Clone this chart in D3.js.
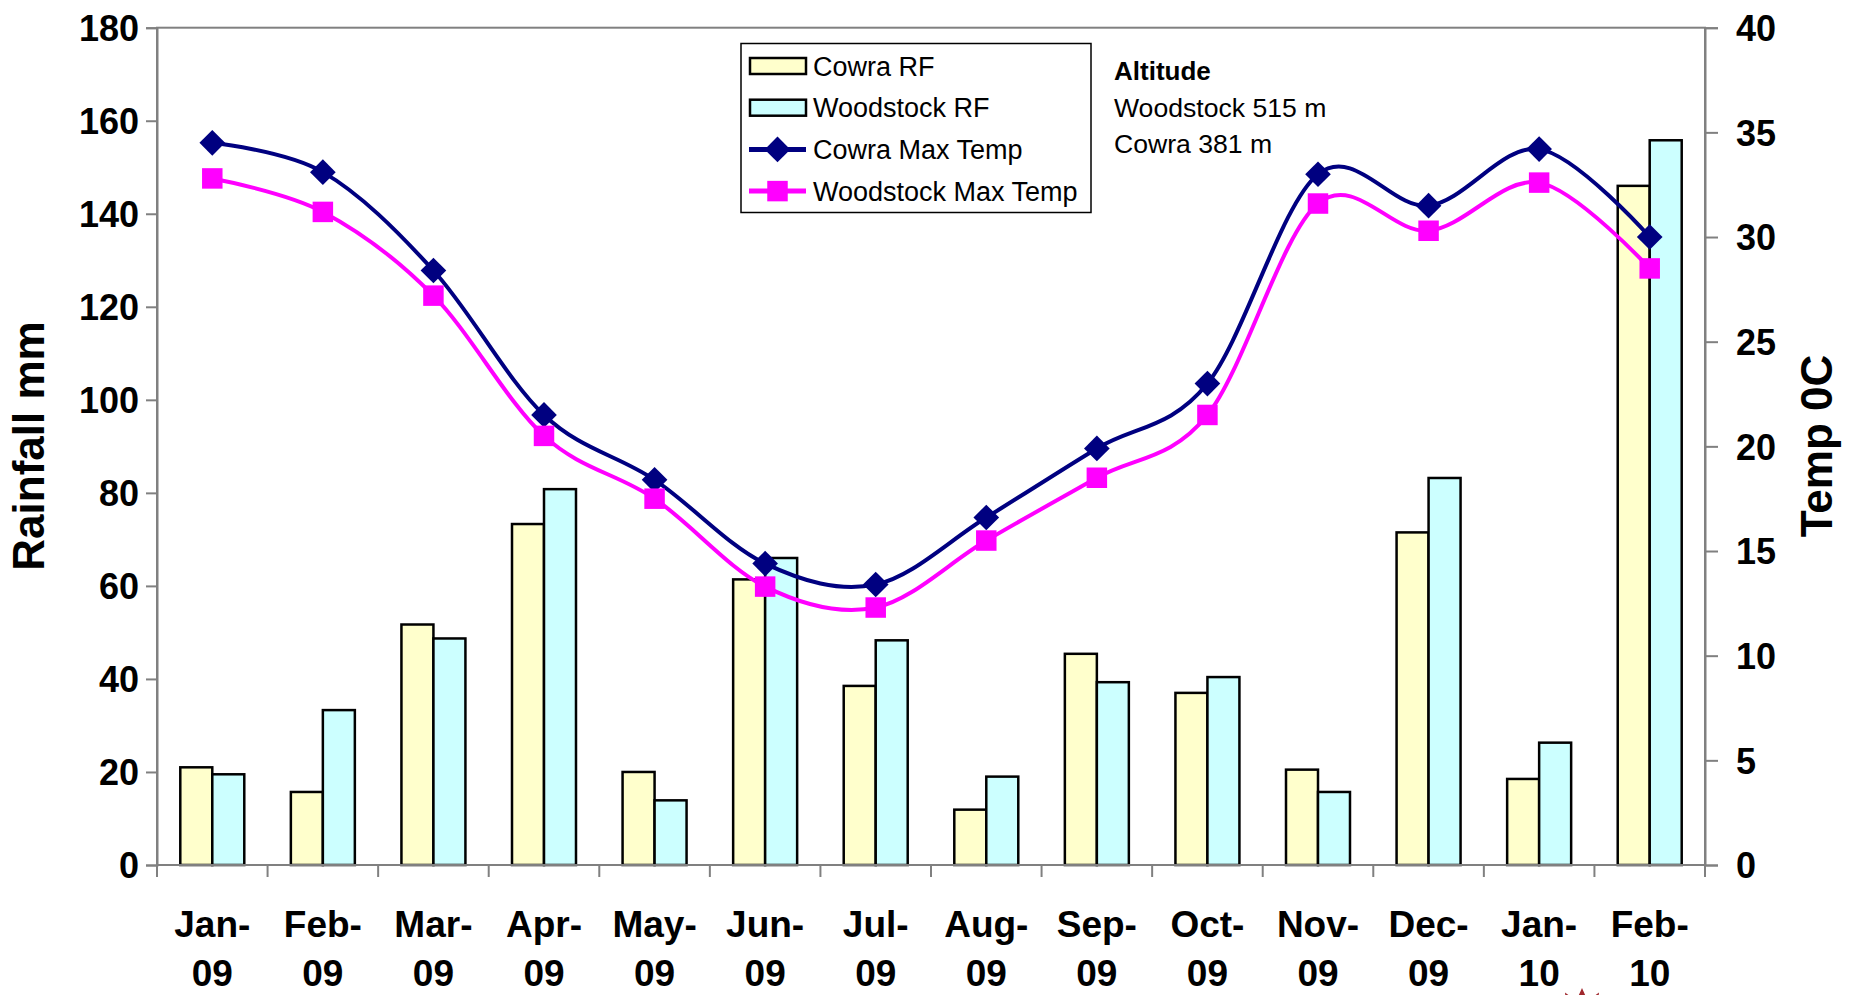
<!DOCTYPE html>
<html>
<head>
<meta charset="utf-8">
<script src="https://cdn.jsdelivr.net/npm/d3@7"></script>
<style>
  body { margin: 0; background: #fff; }
  text { font-family: "Liberation Sans", Arial, sans-serif; fill: #000; }
</style>
</head>
<body>
<div id="chart"></div>
<script>
// data
const months = ["Jan-09", "Feb-09", "Mar-09", "Apr-09", "May-09", "Jun-09", "Jul-09",
                "Aug-09", "Sep-09", "Oct-09", "Nov-09", "Dec-09", "Jan-10", "Feb-10"];
const cowraRF     = [21.0, 15.7, 51.7, 73.3, 20.0, 61.4, 38.5, 11.9, 45.4, 37.0, 20.5, 71.5, 18.5, 146.0];
const woodstockRF = [19.5, 33.3, 48.7, 80.8, 13.9, 66.0, 48.3, 19.0, 39.3, 40.4, 15.7, 83.2, 26.3, 155.8];
const cowraTemp     = [34.5, 33.1, 28.4, 21.5, 18.4, 14.4, 13.4, 16.6, 19.9, 23.0, 33.0, 31.5, 34.2, 30.0];
const woodstockTemp = [32.8, 31.2, 27.2, 20.5, 17.5, 13.3, 12.3, 15.5, 18.5, 21.5, 31.6, 30.3, 32.6, 28.5];
const rainTicks = [0, 20, 40, 60, 80, 100, 120, 140, 160, 180];
const tempTicks = [0, 5, 10, 15, 20, 25, 30, 35, 40];
const barSeries = ["Cowra RF", "Woodstock RF"];
const altitudeLines = ["Woodstock 515 m", "Cowra 381 m"];

const width = 1853, height = 995;
const plotLeft = 157, plotRight = 1705, plotTop = 27.7, plotBottom = 865;

const svg = d3.select("#chart").append("svg")
    .attr("width", width)
    .attr("height", height);

const x = d3.scaleBand().domain(months).range([plotLeft, plotRight]);
const xs = d3.scaleBand().domain(barSeries).range([0, x.bandwidth()]).paddingOuter(0.728);
const yRain = d3.scaleLinear().domain([0, 180]).range([plotBottom, plotTop]);
const yTemp = d3.scaleLinear().domain([0, 40]).range([plotBottom, plotTop]);

const axisColor = "#808080";

// bars
const barColors = { "Cowra RF": "#FFFFCC", "Woodstock RF": "#CCFFFF" };
const barData = [];
months.forEach(function (m, i) {
    barData.push({ m: m, s: "Cowra RF", v: cowraRF[i] });
    barData.push({ m: m, s: "Woodstock RF", v: woodstockRF[i] });
});

svg.append("g").selectAll("rect")
    .data(barData)
    .enter().append("rect")
    .attr("x", function (d) { return x(d.m) + xs(d.s); })
    .attr("y", function (d) { return yRain(d.v); })
    .attr("width", xs.bandwidth())
    .attr("height", function (d) { return yRain(0) - yRain(d.v); })
    .style("fill", function (d) { return barColors[d.s]; })
    .style("stroke", "#000")
    .style("stroke-width", 2.5);

// frame
svg.append("rect")
    .attr("x", plotLeft).attr("y", plotTop)
    .attr("width", plotRight - plotLeft).attr("height", plotBottom - plotTop)
    .style("fill", "none")
    .style("stroke", axisColor)
    .style("stroke-width", 2);

// left axis
const yAxisL = d3.axisLeft(yRain).tickValues(rainTicks).tickSize(11).tickPadding(7);
const gL = svg.append("g").attr("transform", "translate(" + plotLeft + ",0)").call(yAxisL);
gL.select(".domain").style("stroke", axisColor).style("stroke-width", 2);
gL.selectAll(".tick line").style("stroke", axisColor).style("stroke-width", 2);
gL.selectAll(".tick text")
    .style("font-size", "36px").style("font-weight", "bold")
    .attr("dy", "0.36em");

// right axis
const yAxisR = d3.axisRight(yTemp).tickValues(tempTicks).tickSize(13).tickPadding(18);
const gR = svg.append("g").attr("transform", "translate(" + plotRight + ",0)").call(yAxisR);
gR.select(".domain").style("stroke", axisColor).style("stroke-width", 2);
gR.selectAll(".tick line").style("stroke", axisColor).style("stroke-width", 2);
gR.selectAll(".tick text")
    .style("font-size", "36px").style("font-weight", "bold")
    .attr("dy", "0.36em");

// x axis ticks at category boundaries
const bounds = months.map(function (m) { return x(m); }).concat([plotRight]);
svg.append("g").selectAll("line")
    .data(bounds)
    .enter().append("line")
    .attr("x1", function (d) { return d; })
    .attr("x2", function (d) { return d; })
    .attr("y1", plotBottom)
    .attr("y2", plotBottom + 12)
    .style("stroke", axisColor)
    .style("stroke-width", 2);

// x labels
const xl = svg.append("g").selectAll("text")
    .data(months)
    .enter().append("text")
    .attr("text-anchor", "middle")
    .style("font-size", "37px")
    .style("font-weight", "bold");
xl.append("tspan")
    .attr("x", function (d) { return x(d) + x.bandwidth() / 2; })
    .attr("y", 937)
    .text(function (d) { return d.split("-")[0] + "-"; });
xl.append("tspan")
    .attr("x", function (d) { return x(d) + x.bandwidth() / 2; })
    .attr("y", 986)
    .text(function (d) { return d.split("-")[1]; });

// axis titles
svg.append("text")
    .attr("transform", "translate(44,446) rotate(-90)")
    .attr("text-anchor", "middle")
    .style("font-size", "44px").style("font-weight", "bold")
    .text("Rainfall mm");
svg.append("text")
    .attr("transform", "translate(1832,446) rotate(-90)")
    .attr("text-anchor", "middle")
    .style("font-size", "44px").style("font-weight", "bold")
    .text("Temp 0C");

// temperature lines
const cx = function (i) { return x(months[i]) + x.bandwidth() / 2; };
const line = d3.line()
    .x(function (d, i) { return cx(i); })
    .y(function (d) { return yTemp(d); })
    .curve(d3.curveCardinal.tension(0));

const diamond = d3.symbol().type(d3.symbolDiamond2).size(420);
const square = d3.symbol().type(d3.symbolSquare).size(420);

svg.append("path")
    .datum(cowraTemp)
    .attr("d", line)
    .style("fill", "none").style("stroke", "#000080").style("stroke-width", 4);
svg.append("path")
    .datum(woodstockTemp)
    .attr("d", line)
    .style("fill", "none").style("stroke", "#FF00FF").style("stroke-width", 4);

svg.append("g").selectAll("path")
    .data(cowraTemp)
    .enter().append("path")
    .attr("d", diamond)
    .attr("transform", function (d, i) { return "translate(" + cx(i) + "," + yTemp(d) + ")"; })
    .style("fill", "#000080");
svg.append("g").selectAll("path")
    .data(woodstockTemp)
    .enter().append("path")
    .attr("d", square)
    .attr("transform", function (d, i) { return "translate(" + cx(i) + "," + yTemp(d) + ")"; })
    .style("fill", "#FF00FF");

// legend
const legend = svg.append("g");
legend.append("rect")
    .attr("x", 741).attr("y", 43.5)
    .attr("width", 350).attr("height", 169)
    .style("fill", "#fff").style("stroke", "#000").style("stroke-width", 1.5);

const legendItems = [
    { label: "Cowra RF", kind: "bar", color: "#FFFFCC" },
    { label: "Woodstock RF", kind: "bar", color: "#CCFFFF" },
    { label: "Cowra Max Temp", kind: "diamond", color: "#000080" },
    { label: "Woodstock Max Temp", kind: "square", color: "#FF00FF" }
];
legendItems.forEach(function (it, i) {
    const yc = 66 + i * 41.7;
    if (it.kind === "bar") {
        legend.append("rect")
            .attr("x", 750).attr("y", yc - 8)
            .attr("width", 56).attr("height", 16)
            .style("fill", it.color).style("stroke", "#000").style("stroke-width", 2.5);
    } else {
        legend.append("line")
            .attr("x1", 749).attr("x2", 806)
            .attr("y1", yc).attr("y2", yc)
            .style("stroke", it.color).style("stroke-width", 5);
        legend.append("path")
            .attr("d", it.kind === "diamond" ? diamond : square)
            .attr("transform", "translate(777.5," + yc + ")")
            .style("fill", it.color);
    }
    legend.append("text")
        .attr("x", 813).attr("y", yc + 9.5)
        .style("font-size", "27px")
        .text(it.label);
});

// altitude note
svg.append("text")
    .attr("x", 1114).attr("y", 80)
    .style("font-size", "26px").style("font-weight", "bold")
    .text("Altitude");
svg.append("g").selectAll("text")
    .data(altitudeLines)
    .enter().append("text")
    .attr("x", 1114)
    .attr("y", function (d, i) { return 117 + i * 36; })
    .style("font-size", "26.6px")
    .text(function (d) { return d; });

// small red burst cut off at the bottom edge
const burst = d3.range(24).map(function (k) {
    const a = k * Math.PI / 12;
    const r = k % 2 === 0 ? 34 : 22;
    return [1582 + r * Math.sin(a), 1022 - r * Math.cos(a)];
});
svg.append("path")
    .attr("d", "M" + burst.join("L") + "Z")
    .style("fill", "#A0282D");
</script>
</body>
</html>
